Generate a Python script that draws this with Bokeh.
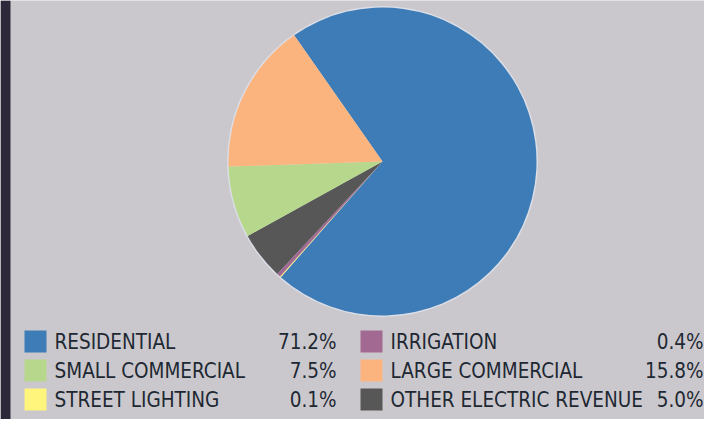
import math
from bokeh.plotting import figure
from bokeh.models import Range1d, ColumnDataSource
from bokeh.core.properties import value
from bokeh.embed import file_html
from bokeh.resources import INLINE

# ---- data ----
categories = ["RESIDENTIAL", "SMALL COMMERCIAL", "STREET LIGHTING",
              "IRRIGATION", "LARGE COMMERCIAL", "OTHER ELECTRIC REVENUE"]
shares = [71.2, 7.5, 0.1, 0.4, 15.8, 5.0]
colors = ["#3d7cb7", "#b7d88c", "#fff47c", "#a26a93", "#fcb47e", "#575757"]
# clockwise drawing order of the slices
pie_order = ["RESIDENTIAL", "STREET LIGHTING", "IRRIGATION",
             "OTHER ELECTRIC REVENUE", "SMALL COMMERCIAL", "LARGE COMMERCIAL"]

# ---- layout (screen px, y measured from page top) ----
W, H = 704, 419
PANEL = "#cbc8cd"
FONT = "'DejaVu Sans Condensed', 'DejaVu Sans', sans-serif"
FS = "20.5px"

def Y(sy):
    return 435 - sy

p = figure(width=W, height=H, output_backend="svg", toolbar_location=None,
           x_range=Range1d(8, 712), y_range=Range1d(8, 427),
           min_border=0, outline_line_color=None)
p.axis.visible = False
p.grid.visible = False
p.background_fill_color = PANEL
p.border_fill_color = PANEL

# dark left strip
p.quad(left=[8], right=[18], bottom=[Y(435)], top=[Y(8)],
       fill_color="#2c2839", line_color=None)

# ---- pie ----
cx, cy, r = 390, Y(169), 154
start = 125.0  # degrees, math convention
idx = {c: i for i, c in enumerate(categories)}
total = sum(shares)
starts, ends, cols = [], [], []
a = start
for c in pie_order:
    span = shares[idx[c]] / total * 360.0
    starts.append(math.radians(a - span))
    ends.append(math.radians(a))
    cols.append(colors[idx[c]])
    a -= span
src = ColumnDataSource(dict(x=[cx] * len(starts), y=[cy] * len(starts),
                            s=starts, e=ends, c=cols))
# soft halo
p.circle(x=[cx], y=[cy], radius=r + 1.5, fill_color="#dfe3ee", line_color=None, fill_alpha=0.8)
p.wedge(x="x", y="y", radius=r, start_angle="s", end_angle="e",
        fill_color="c", line_color=None, source=src)

# ---- legend ----
row_y = [349, 378, 407]
col_sq = [43, 379]
col_lab = [62, 398]
col_val = [344, 711]
lx, ly, lc, ltxt, vx, vtxt = [], [], [], [], [], []
for i, c in enumerate(categories):
    col, row = i // 3, i % 3
    lx.append(col_sq[col]); ly.append(Y(row_y[row])); lc.append(colors[i])
    ltxt.append(c)
    vx.append(col_val[col])
    vtxt.append(f"{shares[i]:.1f}%")
p.rect(x=lx, y=ly, width=22, height=22, fill_color=lc, line_color=None)
p.text(x=[col_lab[i // 3] for i in range(6)], y=ly, text=ltxt,
       text_font=value(FONT), text_font_size=FS, text_color="#1e2833",
       text_baseline="middle", text_align="left")
p.text(x=vx, y=ly, text=vtxt,
       text_font=value(FONT), text_font_size=FS, text_color="#1e2833",
       text_baseline="middle", text_align="right")

open("out.html", "w").write(file_html(p, INLINE))
